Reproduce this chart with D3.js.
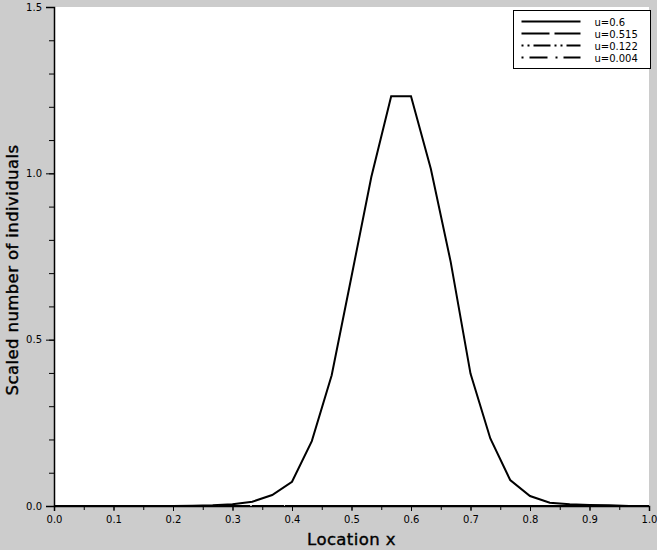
<!DOCTYPE html>
<html lang="en">
<head>
<meta charset="UTF-8">
<title>Scaled number of individuals</title>
<script src="https://cdnjs.cloudflare.com/ajax/libs/d3/7.8.5/d3.min.js"></script>
<style>
  body { margin: 0; background: #cccccc; }
  svg { display: block; font-family: "DejaVu Sans", sans-serif; }
</style>
</head>
<body>
<div id="chart"></div>
<script>
// grid of locations, step 1/30
var locations = [0, 0.0333, 0.0667, 0.1, 0.1333, 0.1667, 0.2, 0.2333, 0.2667, 0.3,
    0.3333, 0.3667, 0.4, 0.4333, 0.4667, 0.5, 0.5333, 0.5667, 0.6, 0.6333,
    0.6667, 0.7, 0.7333, 0.7667, 0.8, 0.8333, 0.8667, 0.9, 0.9333, 0.9667, 1];

var u0600 = [0, 0, 0, 0, 0, 0, 0, 0.0005, 0.002, 0.005,
    0.013, 0.033, 0.073, 0.195, 0.393, 0.69, 0.989, 1.232, 1.232, 1.014,
    0.734, 0.398, 0.203, 0.078, 0.030, 0.010, 0.005, 0.003, 0.002, 0, 0];
var u0515 = [0, 0, 0, 0, 0, 0, 0, 0, 0, 0, 0, 0, 0, 0, 0, 0,
    0, 0, 0, 0, 0, 0, 0, 0, 0, 0, 0, 0, 0, 0, 0];
var u0122 = [0, 0, 0, 0, 0, 0, 0, 0, 0, 0, 0, 0, 0, 0, 0, 0,
    0, 0, 0, 0, 0, 0, 0, 0, 0, 0, 0, 0, 0, 0, 0];
var u0004 = [0, 0, 0, 0, 0, 0, 0, 0, 0, 0, 0, 0, 0, 0, 0, 0,
    0, 0, 0, 0, 0, 0, 0, 0, 0, 0, 0, 0, 0, 0, 0];

var seriesNames = ["u=0.6", "u=0.515", "u=0.122", "u=0.004"];
var seriesValues = [u0600, u0515, u0122, u0004];
var dashes = [null, "28,5", "2,4,2,4,17,4", "2,6,18,8"];

var xTicks = [0, 0.1, 0.2, 0.3, 0.4, 0.5, 0.6, 0.7, 0.8, 0.9, 1.0];
var yTicks = [0, 0.5, 1.0, 1.5];

var width = 657, height = 550;
var margin = {top: 7, right: 8, bottom: 44, left: 54};

var svg = d3.select("#chart").append("svg")
    .attr("width", width)
    .attr("height", height);

svg.append("rect")
    .attr("width", width).attr("height", height)
    .attr("fill", "#cccccc");

var x = d3.scaleLinear().domain([0, 1]).range([margin.left, width - margin.right]);
var y = d3.scaleLinear().domain([0, 1.5]).range([height - margin.bottom, margin.top]);

svg.append("rect")
    .attr("x", x(0)).attr("y", y(1.5))
    .attr("width", x(1) - x(0)).attr("height", y(0) - y(1.5))
    .attr("fill", "#fff");

// minor ticks first
var xMinor = d3.axisBottom(x).tickValues(d3.range(0, 1.0001, 0.05)).tickSize(4).tickFormat("");
svg.append("g").attr("transform", "translate(0," + y(0) + ")").call(xMinor)
    .call(g => g.select(".domain").remove());
var yMinor = d3.axisLeft(y).tickValues(d3.range(0, 1.5001, 0.1)).tickSize(5).tickFormat("");
svg.append("g").attr("transform", "translate(" + x(0) + ",0)").call(yMinor)
    .call(g => g.select(".domain").remove());

var xAxis = svg.append("g")
    .attr("transform", "translate(0," + y(0) + ")")
    .call(d3.axisBottom(x).tickValues(xTicks).tickSize(5).tickPadding(5).tickFormat(d3.format(".1f")));
var yAxis = svg.append("g")
    .attr("transform", "translate(" + x(0) + ",0)")
    .call(d3.axisLeft(y).tickValues(yTicks).tickSize(8).tickPadding(4).tickFormat(d3.format(".1f")));

[xAxis, yAxis].forEach(function(g) {
    g.select(".domain").attr("stroke", "#000").attr("stroke-width", 1.5);
    g.selectAll("text").attr("font-size", 10).attr("fill", "#000")
        .attr("font-family", "DejaVu Sans, sans-serif");
});

svg.selectAll(".tick line").attr("stroke", "#000");

var line = d3.line()
    .x(function(d, i) { return x(locations[i]); })
    .y(function(d) { return y(d); });

// draw the flat series first, the solid one on top
for (var s = seriesValues.length - 1; s >= 0; s--) {
    svg.append("path")
        .datum(seriesValues[s])
        .attr("d", line)
        .attr("fill", "none")
        .attr("stroke", "#000")
        .attr("stroke-width", 2)
        .attr("stroke-dasharray", dashes[s]);
}

// legend
var legend = svg.append("g").attr("transform", "translate(513.5,10.5)");
legend.append("rect")
    .attr("width", 137).attr("height", 58)
    .attr("fill", "#fff").attr("stroke", "#000");
seriesNames.forEach(function(name, i) {
    var ly = 11 + i * 12;
    legend.append("line")
        .attr("x1", 8).attr("x2", 67)
        .attr("y1", ly).attr("y2", ly)
        .attr("stroke", "#000").attr("stroke-width", 2)
        .attr("stroke-dasharray", dashes[i]);
    legend.append("text")
        .attr("x", 81).attr("y", ly + 4)
        .attr("font-size", 10)
        .text(name);
});

// axis titles
svg.append("text")
    .attr("x", (x(0) + x(1)) / 2).attr("y", 545)
    .attr("text-anchor", "middle")
    .attr("font-size", 16.5)
    .attr("letter-spacing", 0.4)
    .attr("stroke", "#000").attr("stroke-width", 0.4)
    .text("Location x");

svg.append("text")
    .attr("transform", "translate(18," + 270 + ") rotate(-90)")
    .attr("text-anchor", "middle")
    .attr("font-size", 16.5)
    .attr("letter-spacing", 0.4)
    .attr("stroke", "#000").attr("stroke-width", 0.4)
    .text("Scaled number of individuals");
</script>
</body>
</html>
